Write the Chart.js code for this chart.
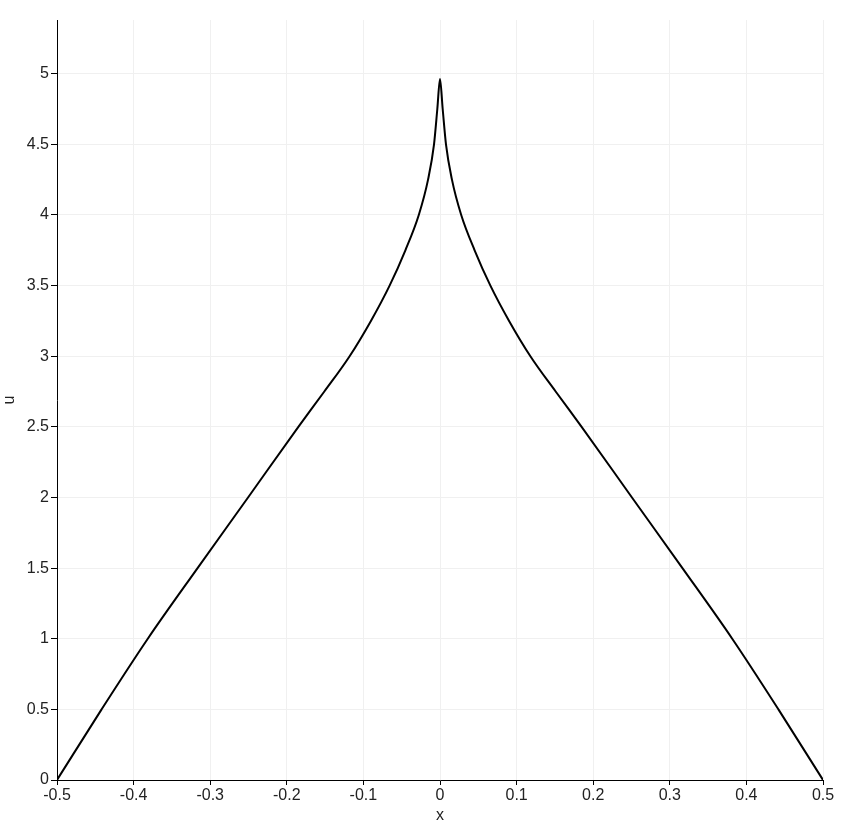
<!DOCTYPE html>
<html>
<head>
  <title>u(x)</title>
  <script src="https://cdn.jsdelivr.net/npm/chart.js"></script>
  <style>
    html, body { margin: 0; padding: 0; background: #fff; }
    #wrap { width: 843px; height: 829px; }
  </style>
</head>
<body>
  <div id="wrap"><canvas id="chart"></canvas></div>

  <script>
    // values (curve is symmetric about x = 0)
    var xValues = [-0.5, -0.4418, -0.3815, -0.3165, -0.2506, -0.1849, -0.151, -0.118, -0.0902, -0.0658,
                   -0.0452, -0.0277, -0.0156, -0.0078, -0.0035, 0,
                   0.0035, 0.0078, 0.0156, 0.0277, 0.0452, 0.0658, 0.0902, 0.118, 0.151, 0.1849,
                   0.2506, 0.3165, 0.3815, 0.4418, 0.5];
    var uValues = [0, 0.5, 1.0, 1.5, 2.0, 2.5, 2.75, 3.0, 3.25, 3.5,
                   3.75, 4.0, 4.25, 4.5, 4.75, 4.962,
                   4.75, 4.5, 4.25, 4.0, 3.75, 3.5, 3.25, 3.0, 2.75, 2.5,
                   2.0, 1.5, 1.0, 0.5, 0];
    var xTicks = [-0.5, -0.4, -0.3, -0.2, -0.1, 0, 0.1, 0.2, 0.3, 0.4, 0.5];
    var uTicks = [0, 0.5, 1, 1.5, 2, 2.5, 3, 3.5, 4, 4.5, 5];

    var points = [];
    for (var i = 0; i < xValues.length; i++) {
      points.push({ x: xValues[i], y: uValues[i] });
    }

    var tickFont = { family: 'Liberation Sans', size: 16 };

    new Chart(document.getElementById('chart'), {
      type: 'line',
      data: {
        datasets: [{
          data: points,
          borderColor: '#000',
          borderWidth: 2,
          pointRadius: 0,
          cubicInterpolationMode: 'monotone',
          fill: false
        }]
      },
      options: {
        responsive: true,
        maintainAspectRatio: false,
        animation: false,
        layout: { padding: { top: 20, right: 20, left: 0, bottom: 0 } },
        plugins: { legend: { display: false }, tooltip: { enabled: false } },
        scales: {
          x: {
            type: 'linear',
            min: -0.5,
            max: 0.5,
            afterBuildTicks: function(axis) {
              axis.ticks = xTicks.map(function(v) { return { value: v }; });
            },
            afterFit: function(axis) { axis.height = 49; },
            ticks: {
              font: tickFont,
              color: '#222',
              padding: 1,
              maxRotation: 0,
              callback: function(v) { return String(Math.round(v * 10) / 10); }
            },
            grid: { color: '#f0f0f0', tickColor: '#000', tickLength: 5 },
            border: { color: '#000', width: 1 },
            title: { display: true, text: 'x', font: tickFont, color: '#222', padding: { top: 0, bottom: 4 } }
          },
          y: {
            type: 'linear',
            min: 0,
            max: 5.38,
            afterBuildTicks: function(axis) {
              axis.ticks = uTicks.map(function(v) { return { value: v }; });
            },
            afterFit: function(axis) { axis.width = 57; },
            ticks: {
              font: tickFont,
              color: '#222',
              padding: 2,
              callback: function(v) { return String(v); }
            },
            grid: { color: '#f0f0f0', tickColor: '#000', tickLength: 6 },
            border: { color: '#000', width: 1 },
            title: { display: true, text: 'u', font: tickFont, color: '#222', padding: { top: 0, bottom: 0 } }
          }
        }
      }
    });
  </script>
</body>
</html>
